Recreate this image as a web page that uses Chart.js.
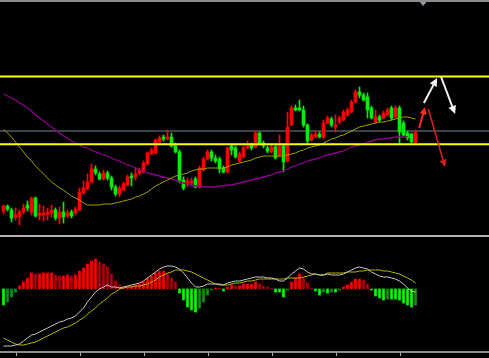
<!DOCTYPE html>
<html><head><meta charset="utf-8">
<style>
html,body{margin:0;padding:0;background:#000;overflow:hidden}
#wrap{position:relative;width:489px;height:358px;background:#000}
canvas{position:absolute;left:0}
.hl{position:absolute;left:0;width:489px}
</style>
<script src="https://cdn.jsdelivr.net/npm/chart.js@4"></script>
</head>
<body>
<div id="wrap">
<canvas id="top" width="489" height="235" style="top:0"></canvas>
<div class="hl" style="top:0;height:2px;background:#8c8c8c"></div>
<div class="hl" style="top:235px;height:2px;background:#b4b4b4"></div>
<canvas id="bot" width="489" height="121" style="top:237px"></canvas>
<div class="hl" style="top:351px;height:2px;background:#8c8c8c"></div>
</div>
<script>
// ---- candle data (price units) ----
const open = [39,44,40,33,33,38,45,38,52,35, 35,36,37,40,32,38,34,38,37,40, 57,61,68,81,76,71,77,72,63,56, 60,65,74,73,77,78,86,96,97,108, 113,111,113,104,98,70,66,67,71,63, 80,91,98,92,91,82,78,104,102,89, 93,102,105,103,117,107,102,98,103,95, 104,89,125,142,142,140,125,110,113,116, 113,127,131,123,128,130,135,138,148,158, 155,153,142,128,133,132,135,142,133,142, 127,117,116,107];
const high = [45,45,42,42,40,46,49,53,53,46, 44,42,45,42,43,48,40,40,43,62, 69,76,86,84,78,80,79,74,65,64, 68,75,77,82,82,89,98,102,111,114, 115,120,117,107,100,73,72,72,73,84, 93,100,100,95,93,84,103,105,104,98, 104,109,107,119,118,109,104,105,105,115, 105,138,144,145,150,144,126,117,119,118, 130,134,133,135,134,140,142,150,160,163, 157,157,144,140,135,139,142,144,144,144, 129,119,117,120];
const low = [36,39,28,30,25,36,39,35,33,30, 29,30,33,30,26,27,32,32,35,39, 56,60,67,75,70,70,70,60,54,53, 59,64,64,70,75,77,85,95,96,107, 109,110,103,97,67,60,63,64,62,62, 79,90,89,87,77,77,77,95,92,88, 92,101,100,102,105,102,97,97,91,93, 78,88,124,139,139,123,107,109,112,112, 111,126,123,118,126,129,134,137,147,152, 149,132,131,127,128,131,134,130,132,107, 114,110,107,106];
const close = [44,41,32,35,38,42,42,52,34,37, 37,38,40,32,38,33,37,34,41,58, 62,68,81,77,71,77,72,63,56,62, 66,73,72,76,80,87,97,100,110,112, 111,113,104,98,70,62,69,69,63,82, 91,98,92,89,81,78,102,100,93,96, 102,104,102,117,106,104,99,103,92,104, 88,123,142,140,140,125,109,115,116,113, 127,132,125,125,132,138,140,148,158,155, 150,140,132,133,130,137,140,132,142,118, 115,112,108,118];
// moving averages
const maFast = [121,117,113,108,103,98,93,89,84,80, 76,72,68,65,62,60,57,54,52,50, 47,45,45,45,45,46,46,46,47,48, 49,50,51,53,54,56,58,61,64,66, 68,70,72,74,75,76,77,79,80,81, 81,82,82,82,82,82,83,85,86,87, 88,89,90,92,93,94,94,94,94,94, 94,95,96,97,99,100,102,103,104,105, 107,109,111,112,114,115,117,119,121,123, 124,125,126,127,128,128,129,130,131,132, 133,133,132,131];
const maSlow = [156,154,152,150,147,145,142,139,135,132, 129,126,123,120,117,114,112,109,107,105, 103,102,100,98,97,95,94,92,90,89, 87,85,84,82,80,79,77,76,75,74, 73,72,71,70,68,67,66,65,64,64, 63,63,63,63,64,64,65,65,66,67, 68,69,70,71,72,73,74,75,77,78, 79,81,83,84,86,87,89,90,91,92, 94,95,96,97,98,99,101,103,104,105, 106,108,109,110,111,111,112,112,113,113, 113,113,null,null];
// horizontal levels
const yellowLevels = [173.5, 105.7];
const grayLevel = 119;
// arrows [x1, y1, x2, y2] in (bar index, price)
const whiteArrows = [[105.1,147,108.4,172],[109.4,173,112.9,136]];
const redArrows = [[103.9,122,105.4,143],[106.2,141,110.4,83]];
const topMarker = [104.9, 250];
// ---- MACD panel ----
const macdHist = [-16,-13,-8,-3,3,7,11,16,15,15, 16,16,16,14,13,13,14,13,14,18, 21,25,28,30,27,25,22,15,8,4, 2,2,3,4,5,7,11,13,16,18, 18,15,11,7,-4,-11,-18,-21,-23,-19, -13,-6,-1,1,0.5,-2,2,4,3,3, 5,5,5,7,5,3,2,0.5,-3,-3, -8,-1,7,11,15,11,6,0.5,-2,-6, -3,-4,-3,-3,-1,2,4,7,10,10, 9,5,-1,-7,-9,-11,-10,-10,-10,-11, -14,-16,-18,-16];
const macdLine = [-57,-57,-57,-56,-55,-52,-49,-46,-45,-43, -41,-39,-37,-35,-33,-32,-30,-29,-27,-23, -19,-13,-8,-3,0,2,4,2,2,1, 2,3,4,5,6,8,11,14,17,20, 22,23,23,22,20,16,11,6,2,2, 3,5,5,5,5,4,6,7,8,8, 9,10,11,12,12,12,11,11,10,8, 8,11,15,18,21,20,17,15,15,14, 14,15,14,14,14,15,17,19,21,22, 21,20,17,15,13,12,12,11,10,8, 5,1,-2,-3];
const signalLine = [-49,-51,-53,-55,-56,-56,-55,-54,-53,-51, -49,-47,-45,-43,-41,-39,-38,-36,-34,-31, -29,-25,-22,-19,-15,-12,-9,-5,-3,0, 1,2,2,3,3,4,5,7,9,12, 14,16,17,19,19,19,18,17,15,13, 11,9,7,5,4,4,4,5,6,6, 7,8,8,9,10,10,10,10,10,10, 10,11,11,11,11,12,13,14,15,14, 14,16,16,16,16,16,17,17,17,18, 18,19,19,19,19,18,18,17,16,15, 13,11,9,6];
const tickIndex = [3,19,35,51,67,83,99];

const idx = open.map((_, i) => i);
const candleColor = idx.map(i => close[i] >= open[i] ? '#ff0000' : '#00ee00');
const histColor = idx.map(i => {
  const v = macdHist[i], p = i > 0 ? macdHist[i-1] : v;
  if (v >= 0) return v >= p ? '#ff0000' : '#b00000';
  return v <= p ? '#00ff00' : '#109010';
});
const xScale = { type:'linear', min:-0.875, max:121.375, offset:false, display:false };

function arrow(ctx, x1, y1, x2, y2, color, w, head) {
  const a = Math.atan2(y2 - y1, x2 - x1);
  ctx.strokeStyle = color; ctx.fillStyle = color; ctx.lineWidth = w;
  ctx.beginPath(); ctx.moveTo(x1, y1);
  ctx.lineTo(x2 - Math.cos(a) * head * 0.8, y2 - Math.sin(a) * head * 0.8); ctx.stroke();
  ctx.beginPath(); ctx.moveTo(x2, y2);
  ctx.lineTo(x2 - head * Math.cos(a - 0.45), y2 - head * Math.sin(a - 0.45));
  ctx.lineTo(x2 - head * Math.cos(a + 0.45), y2 - head * Math.sin(a + 0.45));
  ctx.closePath(); ctx.fill();
}

const topOverlay = {
  id: 'topOverlay',
  beforeDatasetsDraw(chart) {
    const {ctx, chartArea, scales:{y}} = chart;
    ctx.save();
    ctx.strokeStyle = '#3a424c'; ctx.lineWidth = 2;
    const gy = y.getPixelForValue(grayLevel);
    ctx.beginPath(); ctx.moveTo(chartArea.left, gy); ctx.lineTo(chartArea.right, gy); ctx.stroke();
    ctx.restore();
  },
  afterDatasetsDraw(chart) {
    const {ctx, chartArea, scales:{x, y}} = chart;
    ctx.save();
    ctx.strokeStyle = '#ffff00'; ctx.lineWidth = 2;
    yellowLevels.forEach(v => {
      const py = y.getPixelForValue(v);
      ctx.beginPath(); ctx.moveTo(chartArea.left, py); ctx.lineTo(chartArea.right, py); ctx.stroke();
    });
    whiteArrows.forEach(a => arrow(ctx, x.getPixelForValue(a[0]), y.getPixelForValue(a[1]),
      x.getPixelForValue(a[2]), y.getPixelForValue(a[3]), '#f4f4f4', 2, 9));
    redArrows.forEach((a, k) => arrow(ctx, x.getPixelForValue(a[0]), y.getPixelForValue(a[1]),
      x.getPixelForValue(a[2]), y.getPixelForValue(a[3]), k === 0 ? '#ff2a2a' : '#d42020', k === 0 ? 2 : 1.6, 8));
    const mx = x.getPixelForValue(topMarker[0]), my = y.getPixelForValue(topMarker[1]);
    ctx.fillStyle = '#8a98a8';
    ctx.beginPath(); ctx.moveTo(mx - 5, my); ctx.lineTo(mx + 5, my); ctx.lineTo(mx, my + 6); ctx.closePath(); ctx.fill();
    ctx.restore();
  }
};

new Chart(document.getElementById('top'), {
  type: 'bar',
  data: {
    datasets: [
      { type:'line', data: idx.map(i => ({x:i, y:maFast[i]})), borderColor:'#a0a000', borderWidth:1, pointRadius:0, tension:0, order:0 },
      { type:'line', data: idx.map(i => ({x:i, y:maSlow[i]})), borderColor:'#8a008a', borderWidth:1.3, pointRadius:0, tension:0, order:0 },
      { type:'bar', data: idx.map(i => ({x:i, y:[open[i], close[i]]})), backgroundColor: candleColor, barThickness:3, minBarLength:1, grouped:false, borderWidth:0, order:1 },
      { type:'bar', data: idx.map(i => ({x:i, y:[low[i], high[i]]})), backgroundColor: candleColor, barThickness:1, grouped:false, borderWidth:0, order:2 }
    ]
  },
  options: {
    responsive:false, animation:false, devicePixelRatio:1,
    layout:{padding:0},
    plugins:{legend:{display:false}, tooltip:{enabled:false}},
    scales:{ x: xScale, y:{ min:15, max:250, display:false } }
  },
  plugins:[topOverlay]
});

const botOverlay = {
  id: 'botOverlay',
  afterDraw(chart) {
    const {ctx, chartArea, scales:{x}} = chart;
    ctx.save(); ctx.strokeStyle = '#b0b0b0'; ctx.lineWidth = 1;
    tickIndex.forEach(i => {
      const px = Math.round(x.getPixelForValue(i)) + 0.5;
      ctx.beginPath(); ctx.moveTo(px, chartArea.bottom - 5); ctx.lineTo(px, chartArea.bottom - 2); ctx.stroke();
    });
    ctx.restore();
  }
};

new Chart(document.getElementById('bot'), {
  type: 'bar',
  data: {
    datasets: [
      { type:'line', data: idx.map(i => ({x:i, y:macdLine[i]})), borderColor:'#c8c8c8', borderWidth:1, pointRadius:0, tension:0, order:0 },
      { type:'line', data: idx.map(i => ({x:i, y:signalLine[i]})), borderColor:'#b4b400', borderWidth:1, pointRadius:0, tension:0, order:0 },
      { type:'bar', data: idx.map(i => ({x:i, y:macdHist[i]})), backgroundColor: histColor, barThickness:2, grouped:false, borderWidth:0, order:1 }
    ]
  },
  options: {
    responsive:false, animation:false, devicePixelRatio:1,
    layout:{padding:0},
    plugins:{legend:{display:false}, tooltip:{enabled:false}},
    scales:{ x: xScale, y:{ min:-69, max:52, display:false } }
  },
  plugins:[botOverlay]
});
</script>
</body></html>
